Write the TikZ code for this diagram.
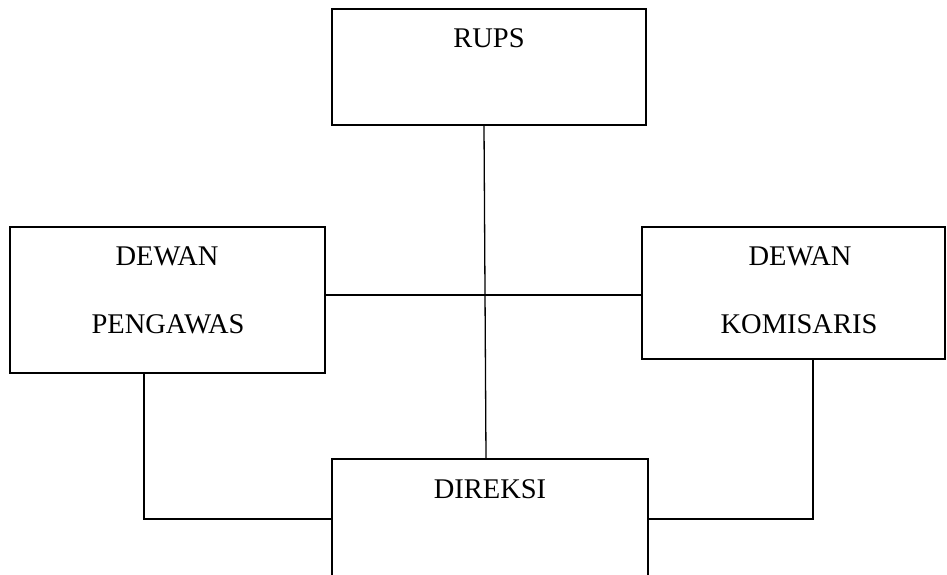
\documentclass[tikz,border=0pt]{standalone}
\usepackage{fontspec}
\setmainfont{Liberation Serif}
\begin{document}
\begin{tikzpicture}[x=1pt,y=-1pt,
  orgbox/.style={draw, line width=1.3pt, inner sep=0pt, rectangle},
  lbl/.style={anchor=base, inner sep=0pt, font=\fontsize{28.5}{34}\selectfont},
  conn/.style={line width=1.3pt}]
\useasboundingbox (0,0) rectangle (947,574);
\node[orgbox, minimum width=314pt, minimum height=116pt] (rups) at (489,67) {};
\node[orgbox, minimum width=315pt, minimum height=146pt] (pengawas) at (167.5,300) {};
\node[orgbox, minimum width=303pt, minimum height=132pt] (komisaris) at (793.5,293) {};
\node[orgbox, minimum width=316pt, minimum height=120pt] (direksi) at (490,519) {};
\node[lbl] (t1) at (489,47) {RUPS};
\node[lbl] (t2) at (167,265) {DEWAN};
\node[lbl] (t3) at (168,333) {PENGAWAS};
\node[lbl] (t4) at (800,265) {DEWAN};
\node[lbl] (t5) at (799,333) {KOMISARIS};
\node[lbl] (t6) at (490,498) {DIREKSI};
\draw[conn] ([xshift=-5pt]rups.south) -- ([xshift=-4pt]direksi.north);
\draw[conn] ([yshift=5pt]pengawas.east) -- ([yshift=5pt]pengawas.east -| komisaris.west);
\draw[conn] ([xshift=-23.5pt]pengawas.south) |- (direksi.west);
\draw[conn] ([xshift=19.5pt]komisaris.south) |- (direksi.east);
\end{tikzpicture}
\end{document}
